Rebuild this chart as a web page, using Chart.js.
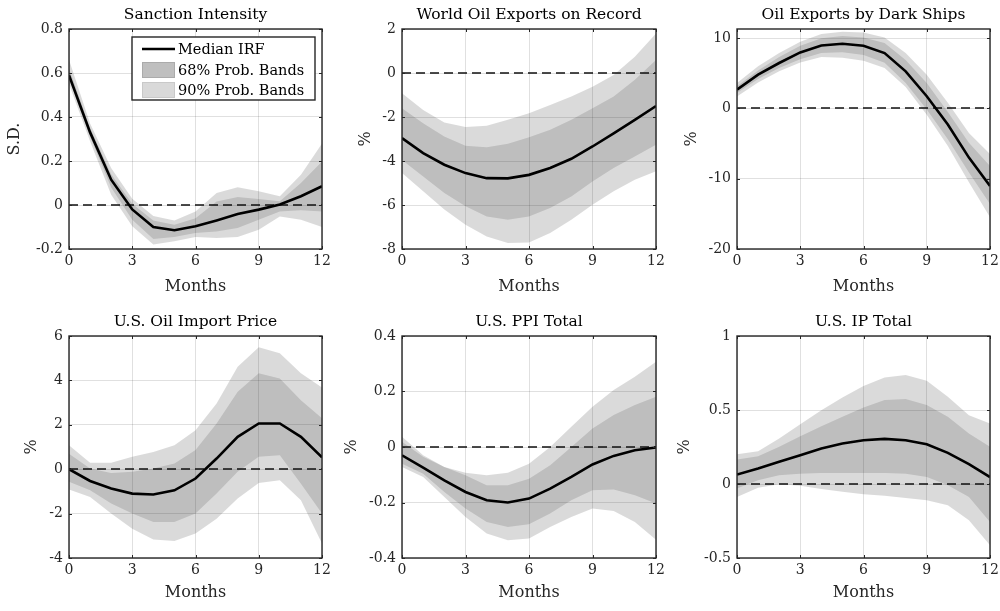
<!DOCTYPE html>
<html>
<head>
<meta charset="utf-8">
<script src="https://cdn.jsdelivr.net/npm/chart.js@4.4.1/dist/chart.umd.min.js"></script>
<style>
  body { margin: 0; background: #fff; width: 1000px; height: 611px; position: relative; overflow: hidden; }
  canvas { position: absolute; }
</style>
</head>
<body>
<canvas id="c0"></canvas>
<canvas id="c1"></canvas>
<canvas id="c2"></canvas>
<canvas id="c3"></canvas>
<canvas id="c4"></canvas>
<canvas id="c5"></canvas>
<script>
// horizonte em meses
const months = [0, 1, 2, 3, 4, 5, 6, 7, 8, 9, 10, 11, 12];
const xTicks = [0, 3, 6, 9, 12];

// Sanction Intensity (S.D.)
const sancMed  = [0.59, 0.33, 0.115, -0.02, -0.10, -0.115, -0.097, -0.07, -0.041, -0.021, 0.002, 0.04, 0.085];
const sancUp68 = [0.62, 0.35, 0.14, 0.006, -0.07, -0.09, -0.06, 0.016, 0.036, 0.027, 0.017, 0.10, 0.198];
const sancLo68 = [0.57, 0.31, 0.08, -0.067, -0.155, -0.145, -0.127, -0.12, -0.105, -0.067, -0.029, -0.024, -0.029];
const sancUp90 = [0.66, 0.37, 0.168, 0.028, -0.05, -0.07, -0.03, 0.054, 0.081, 0.062, 0.04, 0.137, 0.28];
const sancLo90 = [0.55, 0.29, 0.047, -0.097, -0.18, -0.165, -0.145, -0.15, -0.145, -0.112, -0.052, -0.067, -0.10];

// World Oil Exports on Record (%)
const worldMed  = [-2.96, -3.64, -4.17, -4.55, -4.78, -4.79, -4.63, -4.32, -3.90, -3.34, -2.74, -2.13, -1.50];
const worldUp68 = [-1.60, -2.28, -2.89, -3.31, -3.37, -3.22, -2.92, -2.58, -2.13, -1.60, -1.07, -0.31, 0.59];
const worldLo68 = [-3.95, -4.70, -5.46, -6.06, -6.52, -6.67, -6.52, -6.14, -5.61, -4.93, -4.32, -3.79, -3.26];
const worldUp90 = [-0.92, -1.68, -2.25, -2.46, -2.40, -2.13, -1.83, -1.45, -1.07, -0.62, -0.09, 0.74, 1.80];
const worldLo90 = [-4.55, -5.38, -6.21, -6.90, -7.43, -7.73, -7.70, -7.27, -6.67, -5.99, -5.38, -4.85, -4.47];

// Oil Exports by Dark Ships (%)
const darkMed  = [2.68, 4.8, 6.46, 7.97, 8.96, 9.2, 8.91, 7.87, 5.28, 1.73, -2.28, -7.0, -11.02];
const darkUp68 = [3.15, 5.4, 7.3, 8.9, 10.0, 10.3, 10.1, 9.3, 6.9, 3.6, -0.5, -4.9, -8.2];
const darkLo68 = [2.2, 4.2, 5.75, 7.0, 7.9, 8.0, 7.6, 6.5, 3.6, -0.15, -4.4, -9.1, -13.6];
const darkUp90 = [3.6, 6.0, 7.9, 9.5, 10.6, 10.9, 10.8, 10.1, 7.9, 4.8, 0.8, -3.5, -6.5];
const darkLo90 = [1.7, 3.7, 5.3, 6.55, 7.3, 7.2, 6.8, 5.75, 3.05, -0.9, -5.35, -10.5, -15.5];

// U.S. Oil Import Price (%)
const priceMed  = [0.0, -0.53, -0.87, -1.10, -1.14, -0.95, -0.42, 0.48, 1.46, 2.06, 2.06, 1.46, 0.53];
const priceUp68 = [0.70, 0.03, -0.17, -0.12, 0.03, 0.26, 0.86, 2.06, 3.49, 4.32, 4.09, 3.11, 2.29];
const priceLo68 = [-0.57, -0.95, -1.55, -2.00, -2.38, -2.38, -2.00, -1.10, -0.12, 0.56, 0.63, -0.65, -2.00];
const priceUp90 = [1.08, 0.29, 0.29, 0.56, 0.78, 1.08, 1.76, 2.96, 4.62, 5.49, 5.22, 4.32, 3.68];
const priceLo90 = [-0.92, -1.25, -2.00, -2.68, -3.17, -3.23, -2.90, -2.23, -1.32, -0.62, -0.50, -1.40, -3.35];

// U.S. PPI Total (%)
const ppiMed  = [-0.03, -0.074, -0.12, -0.162, -0.192, -0.20, -0.186, -0.15, -0.108, -0.063, -0.032, -0.012, -0.002];
const ppiUp68 = [0.019, -0.035, -0.072, -0.102, -0.138, -0.138, -0.114, -0.066, 0.0, 0.067, 0.115, 0.151, 0.181];
const ppiLo68 = [-0.06, -0.096, -0.162, -0.222, -0.27, -0.288, -0.278, -0.24, -0.192, -0.156, -0.153, -0.174, -0.204];
const ppiUp90 = [0.037, -0.03, -0.072, -0.093, -0.102, -0.093, -0.06, 0.0, 0.073, 0.145, 0.205, 0.253, 0.307];
const ppiLo90 = [-0.072, -0.108, -0.18, -0.252, -0.312, -0.336, -0.33, -0.288, -0.252, -0.222, -0.231, -0.27, -0.334];

// U.S. IP Total (%)
const ipMed  = [0.064, 0.104, 0.15, 0.195, 0.24, 0.274, 0.296, 0.305, 0.296, 0.269, 0.21, 0.134, 0.047];
const ipUp68 = [0.165, 0.188, 0.251, 0.323, 0.39, 0.454, 0.517, 0.567, 0.574, 0.533, 0.454, 0.341, 0.251];
const ipLo68 = [-0.031, 0.025, 0.059, 0.07, 0.075, 0.075, 0.075, 0.075, 0.07, 0.047, -0.009, -0.087, -0.256];
const ipUp90 = [0.201, 0.222, 0.307, 0.404, 0.499, 0.585, 0.662, 0.72, 0.736, 0.698, 0.589, 0.465, 0.409];
const ipLo90 = [-0.087, -0.025, -0.002, -0.011, -0.033, -0.053, -0.069, -0.08, -0.094, -0.11, -0.144, -0.245, -0.414];

const legendLabels = ['Median IRF', '68% Prob. Bands', '90% Prob. Bands'];

const FONT = "'DejaVu Serif', serif";
const INK = '#262626';
const FILL68 = 'rgba(0,0,0,0.13)';
const FILL90 = 'rgba(0,0,0,0.145)';
const AXIS_W = 66, TITLE_H = 27, XAXIS_H = 48, PAD_R = 10;

const panels = [
  { id: 'c0', title: 'Sanction Intensity', yTitle: 'S.D.', med: sancMed, up68: sancUp68, lo68: sancLo68, up90: sancUp90, lo90: sancLo90,
    yMin: -0.2, yMax: 0.8, yStep: 0.2, left: 69, top: 29, w: 253, h: 220, yLabGap: 54, xLabGap: 38, legend: true },
  { id: 'c1', title: 'World Oil Exports on Record', yTitle: '%', med: worldMed, up68: worldUp68, lo68: worldLo68, up90: worldUp90, lo90: worldLo90,
    yMin: -8, yMax: 2, yStep: 2, left: 402, top: 29, w: 254, h: 220, yLabGap: 36, xLabGap: 38 },
  { id: 'c2', title: 'Oil Exports by Dark Ships', yTitle: '%', med: darkMed, up68: darkUp68, lo68: darkLo68, up90: darkUp90, lo90: darkLo90,
    yMin: -20, yMax: 11.3, yStep: 10, left: 737, top: 29, w: 253, h: 220, yLabGap: 45, xLabGap: 38 },
  { id: 'c3', title: 'U.S. Oil Import Price', yTitle: '%', med: priceMed, up68: priceUp68, lo68: priceLo68, up90: priceUp90, lo90: priceLo90,
    yMin: -4, yMax: 6, yStep: 2, left: 69, top: 336, w: 253, h: 222, yLabGap: 37, xLabGap: 35 },
  { id: 'c4', title: 'U.S. PPI Total', yTitle: '%', med: ppiMed, up68: ppiUp68, lo68: ppiLo68, up90: ppiUp90, lo90: ppiLo90,
    yMin: -0.4, yMax: 0.4, yStep: 0.2, left: 402, top: 336, w: 254, h: 222, yLabGap: 50, xLabGap: 35 },
  { id: 'c5', title: 'U.S. IP Total', yTitle: '%', med: ipMed, up68: ipUp68, lo68: ipLo68, up90: ipUp90, lo90: ipLo90,
    yMin: -0.5, yMax: 1, yStep: 0.5, left: 737, top: 336, w: 253, h: 222, yLabGap: 52, xLabGap: 35 }
];

const toXY = arr => arr.map((v, i) => ({ x: months[i], y: v }));

// linha tracejada em zero, antes da mediana
const zeroLine = {
  id: 'zeroLine',
  beforeDatasetDraw(chart, args) {
    if (args.index !== 0) return;
    const { ctx, chartArea, scales } = chart;
    const y = Math.round(scales.y.getPixelForValue(0));
    ctx.save();
    ctx.strokeStyle = '#111';
    ctx.lineWidth = 1.5;
    ctx.setLineDash([9, 5]);
    ctx.beginPath();
    ctx.moveTo(chartArea.left, y);
    ctx.lineTo(chartArea.right, y);
    ctx.stroke();
    ctx.restore();
  }
};

// moldura estilo MATLAB com ticks para dentro
const frame = {
  id: 'frame',
  afterDatasetsDraw(chart) {
    const { ctx, chartArea: a, scales } = chart;
    ctx.save();
    ctx.strokeStyle = INK;
    ctx.lineWidth = 1;
    ctx.beginPath();
    scales.y.ticks.forEach(t => {
      const y = Math.round(scales.y.getPixelForValue(t.value)) + 0.5;
      ctx.moveTo(a.left, y); ctx.lineTo(a.left + 3, y);
      ctx.moveTo(a.right, y); ctx.lineTo(a.right - 3, y);
    });
    scales.x.ticks.forEach(t => {
      const x = Math.round(scales.x.getPixelForValue(t.value)) + 0.5;
      ctx.moveTo(x, a.bottom); ctx.lineTo(x, a.bottom - 3);
      ctx.moveTo(x, a.top); ctx.lineTo(x, a.top + 3);
    });
    ctx.stroke();
    ctx.lineWidth = 1.4;
    ctx.strokeRect(a.left, a.top, a.right - a.left, a.bottom - a.top);
    ctx.restore();
  }
};

// legenda dentro do primeiro painel
const boxLegend = {
  id: 'boxLegend',
  afterDraw(chart) {
    if (!chart.options.plugins.boxLegend.show) return;
    const { ctx, chartArea: a } = chart;
    const w = 183, h = 63;
    const bx = a.right - 7 - w, by = a.top + 8;
    ctx.save();
    ctx.fillStyle = '#fff';
    ctx.fillRect(bx, by, w, h);
    ctx.strokeStyle = INK;
    ctx.lineWidth = 1.4;
    ctx.strokeRect(bx, by, w, h);
    const rows = [by + 12, by + 33, by + 53];
    const sx = bx + 10, sw = 33;
    ctx.strokeStyle = '#000';
    ctx.lineWidth = 2.5;
    ctx.beginPath();
    ctx.moveTo(sx, rows[0]); ctx.lineTo(sx + sw, rows[0]);
    ctx.stroke();
    ctx.lineWidth = 1;
    ctx.fillStyle = '#bfbfbf'; ctx.strokeStyle = '#ababab';
    ctx.fillRect(sx, rows[1] - 8, sw, 16); ctx.strokeRect(sx + 0.5, rows[1] - 7.5, sw - 1, 15);
    ctx.fillStyle = '#d9d9d9'; ctx.strokeStyle = '#c9c9c9';
    ctx.fillRect(sx, rows[2] - 8, sw, 16); ctx.strokeRect(sx + 0.5, rows[2] - 7.5, sw - 1, 15);
    ctx.fillStyle = '#000';
    ctx.font = '14.5px ' + FONT;
    ctx.textBaseline = 'middle';
    legendLabels.forEach((s, i) => ctx.fillText(s, sx + sw + 3, rows[i] + 1));
    ctx.restore();
  }
};

panels.forEach(p => {
  const cv = document.getElementById(p.id);
  const cw = AXIS_W + p.w + PAD_R, ch = TITLE_H + p.h + XAXIS_H;
  cv.width = cw; cv.height = ch;
  cv.style.width = cw + 'px'; cv.style.height = ch + 'px';
  cv.style.left = (p.left - AXIS_W) + 'px';
  cv.style.top = (p.top - TITLE_H) + 'px';

  const band = (data, fill, bg) => ({
    data: toXY(data), fill: fill, backgroundColor: bg, borderColor: 'transparent',
    borderWidth: 0, pointRadius: 0, tension: 0
  });

  new Chart(cv.getContext('2d'), {
    type: 'line',
    data: {
      datasets: [
        { data: toXY(p.med), borderColor: '#000', borderWidth: 2.6, pointRadius: 0, fill: false, tension: 0 },
        band(p.up68, '+1', FILL68),
        band(p.lo68, false, 'transparent'),
        band(p.up90, '+1', FILL90),
        band(p.lo90, false, 'transparent')
      ]
    },
    options: {
      responsive: false,
      animation: false,
      devicePixelRatio: 1,
      layout: { padding: { left: 0, right: PAD_R, top: 0, bottom: 0 } },
      plugins: {
        legend: { display: false },
        tooltip: { enabled: false },
        boxLegend: { show: !!p.legend },
        title: {
          display: true, text: p.title, fullSize: false, color: '#000',
          font: { family: FONT, size: 15.5, weight: 'normal' },
          padding: { top: 3.4, bottom: 5 }
        }
      },
      scales: {
        x: {
          type: 'linear', min: 0, max: 12,
          afterBuildTicks: s => { s.ticks = xTicks.map(v => ({ value: v })); },
          afterFit: s => { s.height = XAXIS_H; s.paddingLeft = 0; s.paddingRight = 0; },
          grid: { color: 'rgba(0,0,0,0.12)', drawTicks: false },
          border: { display: false },
          ticks: { color: INK, padding: 4, font: { family: FONT, size: 14 } },
          title: {
            display: true, text: 'Months', color: INK,
            font: { family: FONT, size: 16 },
            padding: { top: 0, bottom: XAXIS_H - p.xLabGap - 9.6 }
          }
        },
        y: {
          min: p.yMin, max: p.yMax,
          afterFit: s => { s.width = AXIS_W; s.paddingTop = 0; s.paddingBottom = 0; },
          grid: { color: 'rgba(0,0,0,0.12)', drawTicks: false },
          border: { display: false },
          ticks: {
            stepSize: p.yStep, includeBounds: false, color: INK, padding: 6,
            font: { family: FONT, size: 14 },
            callback: v => String(Math.round(v * 100) / 100)
          },
          title: {
            display: true, text: p.yTitle, color: INK,
            font: { family: FONT, size: 16 },
            padding: { top: AXIS_W - p.yLabGap - 9.6, bottom: 0 }
          }
        }
      }
    },
    plugins: [zeroLine, frame, boxLegend]
  });
});
</script>
</body>
</html>
